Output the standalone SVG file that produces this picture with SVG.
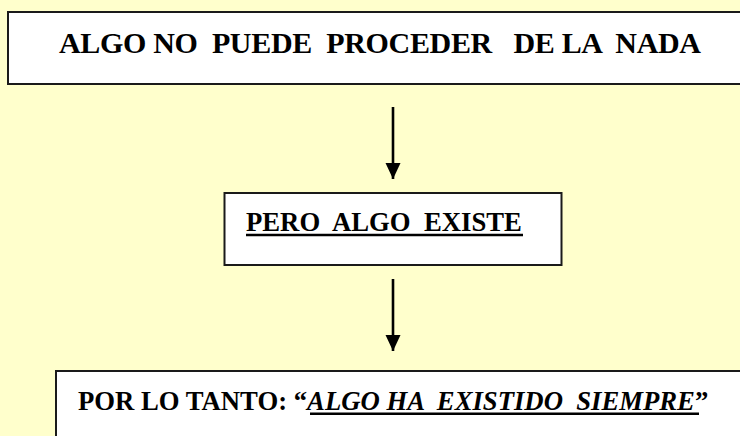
<svg xmlns="http://www.w3.org/2000/svg" width="740" height="436" viewBox="0 0 740 436">
<defs>
<style>
.box{fill:#ffffff;stroke:#1a1a1a;stroke-width:2}
.t{font-weight:bold;fill:#000}
.ul{stroke:#000;stroke-width:2.6}
.conn{stroke:#000;stroke-width:2.6;fill:none}
</style>
<marker id="ah" markerWidth="16" markerHeight="16" refX="16" refY="7.5" orient="auto" markerUnits="userSpaceOnUse" viewBox="0 0 16 15">
<path d="M0,0 L16,7.5 L0,15 Z" fill="#000"/>
</marker>
</defs>
<rect x="0" y="0" width="740" height="436" fill="#ffffcc"/>
<g id="node-top">
<rect class="box" x="8" y="12" width="740" height="72"/>
<text class="t" font-family="'Liberation Serif', 'Times New Roman', serif" x="59" y="53" font-size="30" xml:space="preserve" textLength="642" lengthAdjust="spacing">ALGO NO  PUEDE  PROCEDER   DE LA  NADA</text>
</g>
<g id="node-middle">
<rect class="box" x="224.5" y="193" width="337" height="72"/>
<text class="t" font-family="'Liberation Serif', 'Times New Roman', serif" x="246" y="231" font-size="26.7" xml:space="preserve">PERO  ALGO  EXISTE</text>
<line class="ul" x1="246" y1="235" x2="523" y2="235"/>
</g>
<g id="node-bottom">
<rect class="box" x="56" y="371" width="700" height="80"/>
<text class="t" font-family="'Liberation Serif', 'Times New Roman', serif" x="78" y="410" font-size="26.7" xml:space="preserve">POR LO TANTO: “<tspan font-style="italic">ALGO HA  EXISTIDO  SIEMPRE</tspan>”</text>
<line class="ul" x1="310" y1="413.7" x2="699" y2="413.7"/>
</g>
<g id="connectors">
<line class="conn" x1="393" y1="107" x2="393" y2="179" marker-end="url(#ah)"/>
<line class="conn" x1="393" y1="279" x2="393" y2="351" marker-end="url(#ah)"/>
</g>
</svg>
